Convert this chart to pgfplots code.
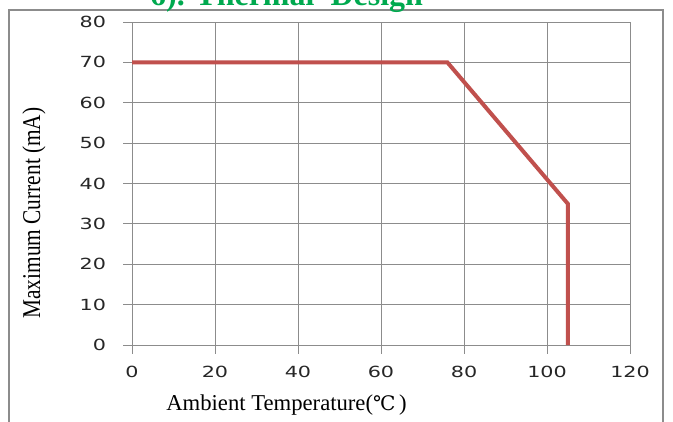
\documentclass[border=0pt]{standalone}
\usepackage{pgfplots}
\pgfplotsset{compat=1.18}
\usepackage{fontspec}
\setmainfont{Liberation Serif}
\newfontfamily\tickfont{DejaVu Sans}
\newfontfamily\symfont{DejaVu Serif}
\definecolor{curve}{HTML}{C0504D}
\definecolor{gridgray}{HTML}{8C8C8C}
\definecolor{titlegreen}{HTML}{00A94F}

% derating curve: maximum current vs ambient temperature
\pgfplotstableread{
T    I
0    70
76   70
105  35
105  0
}\derating

\begin{document}
\begin{tikzpicture}
% page = 673x421 px at 0.75pt per px
\clip (0pt,0pt) rectangle (504.75pt,-315.75pt);
\useasboundingbox (0pt,0pt) rectangle (504.75pt,-315.75pt);
\draw[gridgray, line width=1.3pt] (6.75pt,-330pt) -- (6.75pt,-7.5pt) -- (497.25pt,-7.5pt) -- (497.25pt,-330pt);
\node[anchor=base, text=titlegreen, font=\fontsize{24}{26}\selectfont\bfseries] at (214.9pt,-4.5pt) {6). Thermal\ \ Design};

\begin{axis}[
    at={(99pt,-258.75pt)}, anchor=south west,
    scale only axis,
    width=373.5pt, height=242.25pt,
    xmin=0, xmax=120, ymin=0, ymax=80,
    xtick distance=20, ytick distance=10,
    grid=major,
    major grid style={gridgray, line width=0.7pt},
    axis line style={gridgray, line width=0.7pt},
    tick style={gridgray, line width=0.7pt},
    tick align=outside,
    major tick length=6.5pt,
    xtick pos=bottom, ytick pos=left,
    /pgf/number format/assume math mode=true,
    xticklabel={\scalebox{1.35}[1]{\pgfmathprintnumber{\tick}}},
    yticklabel={\scalebox{1.35}[1]{\pgfmathprintnumber{\tick}}},
    ticklabel style={font=\tickfont\fontsize{11.5}{13}\selectfont, text=black!85},
    xticklabel style={yshift=-6pt},
    yticklabel style={xshift=-9.5pt},
]
\addplot[curve, line width=3pt, line join=miter] table[x=T, y=I] {\derating};
\end{axis}

\node[anchor=base, font=\fontsize{17}{19}\selectfont] at (214.9pt,-307.5pt) {Ambient Temperature({\symfont\fontsize{15}{17}\selectfont ℃}\,)};
\node[rotate=90, font=\fontsize{16}{18}\selectfont] at (25.5pt,-159.75pt) {\scalebox{1}[1.2]{Maximum Current (mA)}};
\end{tikzpicture}
\end{document}
